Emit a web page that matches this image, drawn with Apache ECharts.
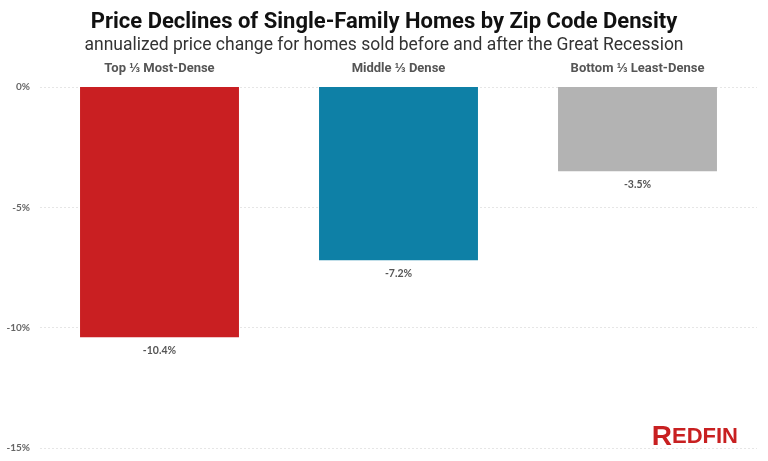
<!DOCTYPE html>
<html><head><meta charset="utf-8">
<script src="https://cdn.jsdelivr.net/npm/echarts@6/dist/echarts.min.js"></script>
<style>html,body{margin:0;padding:0;background:#fff}#c{width:768px;height:461px}</style>
</head><body><div id="c"></div>
<script>
const categories = ["Top \u2153 Most-Dense", "Middle \u2153 Dense", "Bottom \u2153 Least-Dense"];
const values = [-10.4, -7.2, -3.5];
const colors = ["#c91f22", "#0e80a6", "#b3b3b3"];
const yTicks = [0, -5, -10, -15];

const chart = echarts.init(document.getElementById('c'));
chart.setOption({
  animation: false,
  title: {
    text: "Price Declines of Single-Family Homes by Zip Code Density",
    subtext: "annualized price change for homes sold before and after the Great Recession",
    left: 'center', top: 6, itemGap: 4,
    textStyle: {fontFamily: "Roboto, sans-serif", fontWeight: 'bold', fontSize: 22, color: '#111'},
    subtextStyle: {fontFamily: "Roboto, sans-serif", fontSize: 17.5, color: '#333'}
  },
  grid: {left: 40, right: 11, top: 87, bottom: 13, containLabel: false},
  xAxis: {
    type: 'category', data: categories, position: 'top',
    axisLine: {show: false}, axisTick: {show: false},
    axisLabel: {margin: 12, color: '#555', fontWeight: 'bold', fontSize: 13, fontFamily: "Roboto, sans-serif"}
  },
  yAxis: {
    type: 'value', min: -15, max: 0, interval: 5,
    axisLine: {show: false}, axisTick: {show: false},
    axisLabel: {formatter: v => v + '%', color: '#666', fontSize: 10, fontWeight: 'bold', margin: 10, fontFamily: "Lato, sans-serif"},
    splitLine: {lineStyle: {color: '#e6e6e6', type: [2, 2]}}
  },
  series: [{
    type: 'bar', barWidth: '66.5%',
    data: values.map((v, i) => ({value: v, itemStyle: {color: colors[i]}})),
    label: {show: true, position: 'bottom', distance: 8, formatter: p => p.value + '%',
      color: '#555', fontSize: 10.5, fontWeight: 'bold', fontFamily: "Lato, sans-serif"}
  }],
  graphic: [{
    type: 'text', right: 30, bottom: 10,
    style: {
      text: '{a|R}{b|EDFIN}',
      rich: {
        a: {fontSize: 28, fontWeight: 'bold', fill: '#c82021', fontFamily: "Liberation Sans, sans-serif"},
        b: {fontSize: 22, fontWeight: 'bold', fill: '#c82021', fontFamily: "Liberation Sans, sans-serif"}
      }
    }
  }]
});
</script></body></html>
